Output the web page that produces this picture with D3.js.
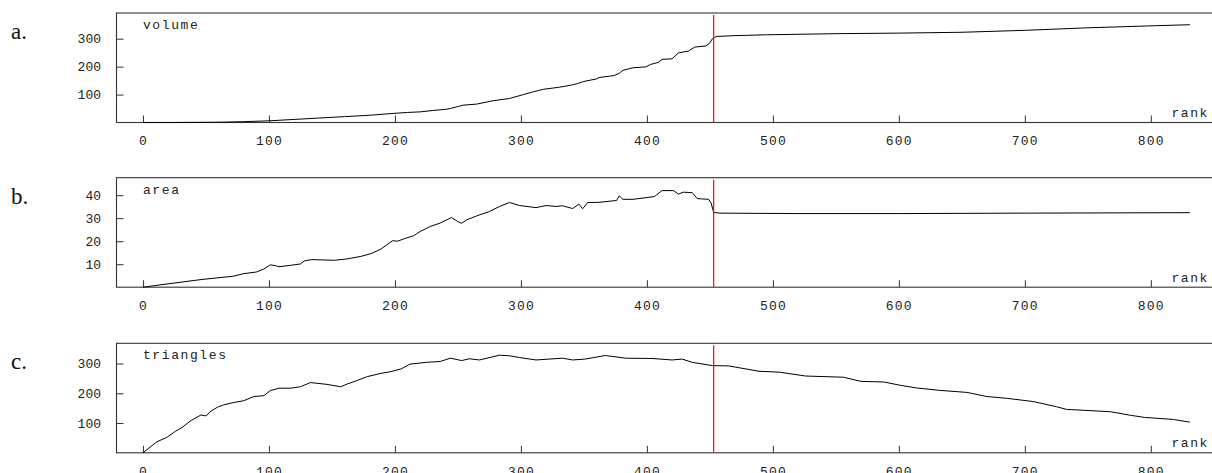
<!DOCTYPE html>
<html lang="en">
<head>
    <meta charset="UTF-8">
    <title>Rank plots</title>
    <script src="https://cdn.jsdelivr.net/npm/d3@7/dist/d3.min.js"></script>
    <style>
        body { margin: 0; background: #fff; }
        text { fill: #222; }
        .mono { font-family: 'Liberation Mono', 'Courier New', monospace; font-size: 13px; }
        .letter { font-family: 'Liberation Serif', 'Times New Roman', serif; font-size: 23px; fill: #111; }
    </style>
</head>
<body>
<svg id="main" width="1212" height="473"></svg>
<script>
    // rank where the red marker sits
    const splitRank = 453;
    const xTicks = [0, 100, 200, 300, 400, 500, 600, 700, 800];

    // [rank, value]
    const volume = [
        [0, 0], [20, 0], [40, 0.5], [60, 1], [80, 3], [100, 6], [120, 11], [140, 16], [160, 21],
        [180, 26], [200, 33], [210, 36], [220, 38], [230, 43], [240, 47], [244, 50], [254, 62],
        [265, 66], [278, 78], [291, 86], [302, 100], [310, 110], [318, 119], [330, 126],
        [340, 134], [344, 138], [350, 147], [360, 156], [362, 161], [374, 168], [378, 176],
        [381, 187], [389, 196], [399, 199], [403, 208], [409, 215], [412, 226], [420, 228],
        [425, 249], [433, 256], [438, 270], [447, 274], [450, 285], [452, 300], [455, 308],
        [470, 311], [495, 314], [550, 318], [600, 320], [650, 323], [700, 330], [750, 339],
        [800, 346], [831, 350]
    ];
    const area = [
        [0, 0], [19, 1.4], [46, 3.3], [72, 4.8], [80, 5.9], [90, 6.6], [96, 7.9], [101, 9.7],
        [105, 9.4], [108, 8.9], [117, 9.5], [125, 10.1], [128, 11.4], [134, 12], [152, 11.7],
        [162, 12.3], [173, 13.4], [181, 14.6], [189, 16.6], [198, 20.2], [202, 20.0], [207, 21],
        [215, 22.4], [220, 24.2], [228, 26.4], [236, 27.9], [245, 30.3], [250, 28.5], [253, 27.8],
        [257, 29.3], [265, 31], [275, 32.9], [283, 35.1], [291, 36.8], [299, 35.5], [312, 34.6],
        [320, 35.5], [328, 35.1], [333, 35.4], [341, 34.2], [346, 36.1], [349, 34.1], [353, 36.8],
        [362, 36.9], [376, 37.7], [378, 39.7], [381, 38.2], [389, 38.2], [406, 39.4], [412, 42],
        [421, 42], [425, 40.5], [429, 41.3], [436, 41.1], [440, 38.5], [449, 38.2], [451, 36.5],
        [453, 32.5], [458, 32.2], [520, 32.0], [600, 32.0], [700, 32.2], [831, 32.4]
    ];
    const triangles = [
        [0, 0], [11, 37], [19, 52], [26, 73], [31, 85], [38, 108], [46, 127], [50, 124],
        [54, 140], [59, 153], [64, 161], [72, 169], [80, 175], [88, 189], [96, 192], [101, 209],
        [108, 217], [117, 217], [125, 222], [133, 236], [146, 230], [157, 222], [162, 231],
        [170, 243], [178, 256], [189, 267], [197, 273], [205, 282], [212, 298], [225, 304],
        [236, 307], [244, 318], [253, 310], [259, 316], [267, 312], [283, 328], [291, 326],
        [299, 320], [312, 312], [333, 318], [341, 312], [351, 315], [367, 327], [383, 318],
        [404, 317], [420, 312], [428, 315], [436, 304], [452, 293], [465, 292], [489, 274],
        [505, 271], [526, 258], [556, 254], [570, 240], [588, 238], [601, 227], [614, 218],
        [632, 210], [654, 203], [670, 189], [686, 183], [707, 172], [725, 155], [733, 146],
        [768, 138], [784, 126], [795, 119], [818, 112], [831, 103]
    ];

    const panels = [
        {letter: 'a.', name: 'volume', data: volume, yMax: 392, yTicks: [100, 200, 300], top: 13},
        {letter: 'b.', name: 'area', data: area, yMax: 47.6, yTicks: [10, 20, 30, 40], top: 177.7},
        {letter: 'c.', name: 'triangles', data: triangles, yMax: 368, yTicks: [100, 200, 300], top: 343.3}
    ];

    let svg = d3.select('svg#main');
    let left = 116.5;
    let panelHeight = 109.5;

    let xScale = d3.scaleLinear()
        .domain([-21, 848])
        .range([left, 1211.3]);

    panels.forEach(function (p) {
        let g = svg.append('g').attr('transform', 'translate(0,' + p.top + ')');

        let yScale = d3.scaleLinear()
            .domain([0, p.yMax])
            .range([panelHeight, 0]);

        // frame, right side runs off the page
        g.append('rect')
            .attr('x', left).attr('y', 0)
            .attr('width', 1220 - left).attr('height', panelHeight)
            .attr('fill', 'none').attr('stroke', '#333').attr('stroke-width', 1.1);

        let xAxis = d3.axisBottom(xScale)
            .tickValues(xTicks)
            .tickSizeInner(-7).tickSizeOuter(0)
            .tickPadding(13.5);
        let gx = g.append('g').attr('class', 'mono')
            .attr('transform', 'translate(0,' + panelHeight + ')')
            .call(xAxis);
        gx.select('.domain').remove();
        gx.selectAll('.tick line').attr('stroke', '#333');
        gx.selectAll('.tick text').attr('class', 'mono').style('letter-spacing', '1.2px');

        let yAxis = d3.axisLeft(yScale)
            .tickValues(p.yTicks)
            .tickSizeInner(-7).tickSizeOuter(0)
            .tickPadding(15.5);
        let gy = g.append('g').attr('class', 'mono')
            .attr('transform', 'translate(' + left + ',0)')
            .call(yAxis);
        gy.select('.domain').remove();
        gy.selectAll('.tick line').attr('stroke', '#333');
        gy.selectAll('.tick text').attr('class', 'mono');

        let line = d3.line()
            .x(d => xScale(d[0]))
            .y(d => yScale(d[1]));

        g.append('path')
            .datum(p.data)
            .attr('d', line)
            .attr('fill', 'none')
            .attr('stroke', '#000')
            .attr('stroke-width', 1);

        g.append('line')
            .attr('x1', xScale(splitRank)).attr('x2', xScale(splitRank))
            .attr('y1', 2).attr('y2', panelHeight)
            .attr('stroke', '#f00').attr('stroke-width', 1.2);

        g.append('text').attr('class', 'mono')
            .attr('x', xScale(0)).attr('y', 16)
            .style('letter-spacing', '1.6px')
            .text(p.name);

        g.append('text').attr('class', 'mono')
            .attr('x', 1209).attr('y', panelHeight - 5.5)
            .attr('text-anchor', 'end')
            .style('letter-spacing', '1.6px')
            .text('rank');

        g.append('text').attr('class', 'letter')
            .attr('x', 11).attr('y', 26)
            .text(p.letter);
    });
</script>
</body>
</html>
